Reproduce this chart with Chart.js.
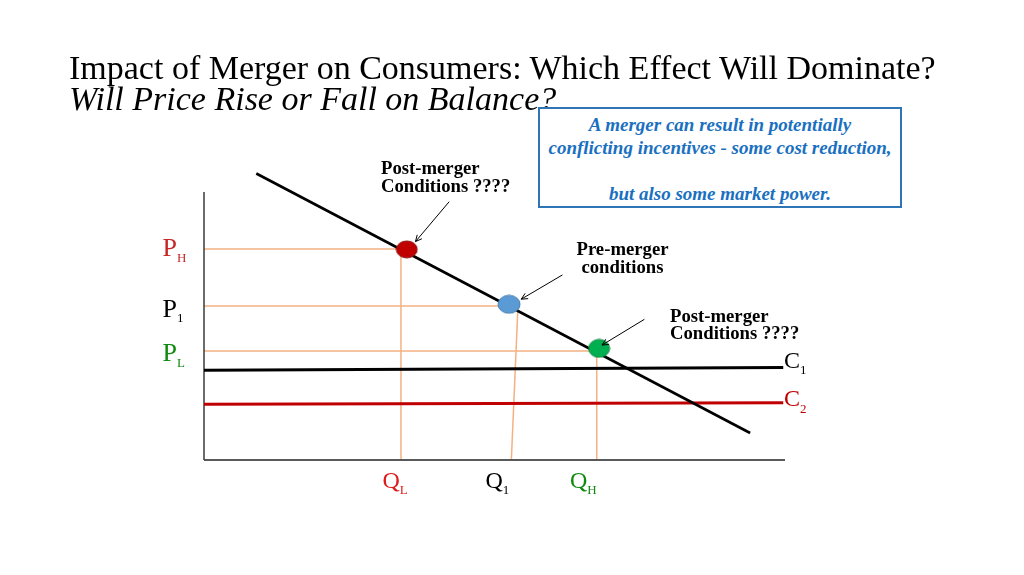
<!DOCTYPE html>
<html lang="en">
  <head>
    <meta charset="UTF-8" />
    <title>Impact of Merger on Consumers</title>
    <script src="https://cdn.jsdelivr.net/npm/chart.js"></script>
    <style>
      body {
        margin: 0;
        background: #fff;
        font-family: "Liberation Serif", "Times New Roman", serif;
      }
      .stage {
        position: relative;
        width: 1024px;
        height: 575px;
        overflow: hidden;
      }
      #chart {
        position: absolute;
        left: 0;
        top: 0;
      }
      .txt {
        position: absolute;
        white-space: nowrap;
        line-height: 1;
      }
      .title { font-size: 34px; color: #000; }
      .note {
        font-weight: bold;
        font-size: 18.7px;
        line-height: 17.5px;
        color: #000;
      }
      .lab { font-size: 26px; }
      .qlab { font-size: 24px; }
      .sub { font-size: 13px; position: relative; }
      .box {
        position: absolute;
        left: 538px;
        top: 107px;
        width: 364px;
        height: 101px;
        box-sizing: border-box;
        border: 2px solid #2e75b6;
        padding-top: 4px;
        text-align: center;
        font-weight: bold;
        font-style: italic;
        font-size: 19px;
        line-height: 23px;
        color: #1a70c0;
        background: #fff;
      }
    </style>
  </head>
  <body>
    <div class="stage">
      <canvas id="chart" width="1024" height="575"></canvas>

      <div class="txt title" style="left: 69px; top: 50.5px">
        Impact of Merger on Consumers: Which Effect Will Dominate?
      </div>
      <div class="txt title" style="left: 69px; top: 81.5px; font-style: italic">
        Will Price Rise or Fall on Balance?
      </div>

      <div class="box">
        A merger can result in potentially<br />
        conflicting incentives - some cost reduction,<br />
        <br />
        but also some market power.
      </div>

      <div class="txt note" style="left: 381px; top: 159px">
        Post-merger<br />Conditions ????
      </div>
      <div class="txt note" style="left: 552px; top: 240px; width: 141px; text-align: center">
        Pre-merger<br />conditions
      </div>
      <div class="txt note" style="left: 670px; top: 306.5px">
        Post-merger<br />Conditions ????
      </div>

      <!-- price labels -->
      <div class="txt lab" style="left: 162.5px; top: 235px; color: #c62828">
        P<span class="sub" style="top: 6px">H</span>
      </div>
      <div class="txt lab" style="left: 162.5px; top: 295.5px; color: #000">
        P<span class="sub" style="top: 5.5px">1</span>
      </div>
      <div class="txt lab" style="left: 162.5px; top: 340px; color: #0f8a0f">
        P<span class="sub" style="top: 5.5px">L</span>
      </div>

      <!-- quantity labels -->
      <div class="txt qlab" style="left: 382.5px; top: 467.5px; color: #e01b1b">
        Q<span class="sub" style="top: 6.5px">L</span>
      </div>
      <div class="txt qlab" style="left: 485.5px; top: 467.5px; color: #000">
        Q<span class="sub" style="top: 6.5px">1</span>
      </div>
      <div class="txt qlab" style="left: 570px; top: 467.5px; color: #0f8a0f">
        Q<span class="sub" style="top: 6.5px">H</span>
      </div>

      <!-- cost labels -->
      <div class="txt qlab" style="left: 784px; top: 348px; color: #000">
        C<span class="sub" style="top: 6px">1</span>
      </div>
      <div class="txt qlab" style="left: 784px; top: 385.5px; color: #c00000">
        C<span class="sub" style="top: 7px">2</span>
      </div>
    </div>

    <script>
      // axis extent (quantity, price)
      const axisQMax = 10;
      const axisPMax = 8.93;

      // demand curve end points
      const demandQ = [0.9, 9.4];
      const demandP = [9.55, 0.9];

      // marginal cost before (C1) and after (C2) the merger
      const costQ = [0, 9.97];
      const costC1 = [2.99, 3.08];
      const costC2 = [1.86, 1.91];

      // equilibria: post-merger (high price), pre-merger, post-merger (low price)
      const eqQ = [3.49, 5.25, 6.8];
      const eqP = [7.02, 5.19, 3.72];
      const eqFill = ["#c00000", "#5b9bd5", "#00b050"];
      const eqEdge = ["#8e1b1b", "#4a7fb0", "#0d8a43"];

      // guide lines to the axes: P_H, P1, P_L and Q_L, Q1, Q_H
      const priceLevels = [7.03, 5.13, 3.63];
      const qtyAtAxis = [3.39, 5.29, 6.76];
      const qtyAtTop = [3.39, 5.4, 6.76];
      const qtyTopPrice = [7.03, 4.94, 3.63];

      // arrows from the notes to the dots
      const arrowFromQ = [4.22, 6.17, 7.58];
      const arrowFromP = [8.61, 6.17, 4.69];
      const arrowToQ = [3.64, 5.46, 6.85];
      const arrowToP = [7.28, 5.36, 3.83];

      function seg(q, p) {
        return q.map((v, i) => ({ x: v, y: p[i] }));
      }

      function makeDot(fill, edge, w, h) {
        const c = document.createElement("canvas");
        c.width = w + 2;
        c.height = h + 2;
        const g = c.getContext("2d");
        g.beginPath();
        g.ellipse(c.width / 2, c.height / 2, w / 2, h / 2, 0, 0, Math.PI * 2);
        g.fillStyle = fill;
        g.fill();
        g.lineWidth = 1;
        g.strokeStyle = edge;
        g.stroke();
        return c;
      }

      const lineBase = {
        showLine: true,
        pointRadius: 0,
        pointHoverRadius: 0,
        fill: false,
        tension: 0,
        clip: false,
      };

      const datasets = [];

      // dots on top
      const dotSize = [[21, 17], [22, 18], [21, 18]];
      eqQ.forEach((q, i) => {
        datasets.push({
          data: [{ x: q, y: eqP[i] }],
          pointStyle: makeDot(eqFill[i], eqEdge[i], dotSize[i][0], dotSize[i][1]),
          showLine: false,
          clip: false,
          order: 0,
        });
      });

      datasets.push({
        ...lineBase,
        data: seg(demandQ, demandP),
        borderColor: "#000",
        borderWidth: 2.6,
        order: 1,
      });
      datasets.push({
        ...lineBase,
        data: seg(costQ, costC1),
        borderColor: "#000",
        borderWidth: 3,
        order: 2,
      });
      datasets.push({
        ...lineBase,
        data: seg(costQ, costC2),
        borderColor: "#c00000",
        borderWidth: 3,
        order: 2,
      });

      // axes
      datasets.push({
        ...lineBase,
        data: seg([0, 0], [0, axisPMax]),
        borderColor: "#3a3a3a",
        borderWidth: 1.5,
        order: 2,
      });
      datasets.push({
        ...lineBase,
        data: seg([0, axisQMax], [0, 0]),
        borderColor: "#595959",
        borderWidth: 2,
        order: 2,
      });

      // orange guides
      priceLevels.forEach((p, i) => {
        datasets.push({
          ...lineBase,
          data: seg([0, eqQ[i]], [p, p]),
          borderColor: "#f4b183",
          borderWidth: 1.5,
          order: 3,
        });
        datasets.push({
          ...lineBase,
          data: seg([qtyAtTop[i], qtyAtAxis[i]], [qtyTopPrice[i], 0]),
          borderColor: "#f4b183",
          borderWidth: 1.5,
          order: 3,
        });
      });

      const arrows = {
        id: "arrows",
        afterDatasetsDraw(chart) {
          const { ctx, scales } = chart;
          ctx.save();
          ctx.strokeStyle = "#000";
          ctx.lineWidth = 1;
          arrowFromQ.forEach((q, i) => {
            const x1 = scales.x.getPixelForValue(q);
            const y1 = scales.y.getPixelForValue(arrowFromP[i]);
            const x2 = scales.x.getPixelForValue(arrowToQ[i]);
            const y2 = scales.y.getPixelForValue(arrowToP[i]);
            const a = Math.atan2(y2 - y1, x2 - x1);
            ctx.beginPath();
            ctx.moveTo(x1, y1);
            ctx.lineTo(x2, y2);
            ctx.moveTo(x2 - 7 * Math.cos(a - 0.45), y2 - 7 * Math.sin(a - 0.45));
            ctx.lineTo(x2, y2);
            ctx.lineTo(x2 - 7 * Math.cos(a + 0.45), y2 - 7 * Math.sin(a + 0.45));
            ctx.stroke();
          });
          ctx.restore();
        },
      };

      new Chart(document.getElementById("chart"), {
        type: "scatter",
        data: { datasets },
        options: {
          responsive: false,
          animation: false,
          events: [],
          layout: { padding: { left: 204, right: 239, top: 160, bottom: 115 } },
          plugins: {
            legend: { display: false },
            tooltip: { enabled: false },
          },
          scales: {
            x: { type: "linear", min: 0, max: 10, display: false },
            y: { type: "linear", min: 0, max: 10, display: false },
          },
        },
        plugins: [arrows],
      });
    </script>
  </body>
</html>
